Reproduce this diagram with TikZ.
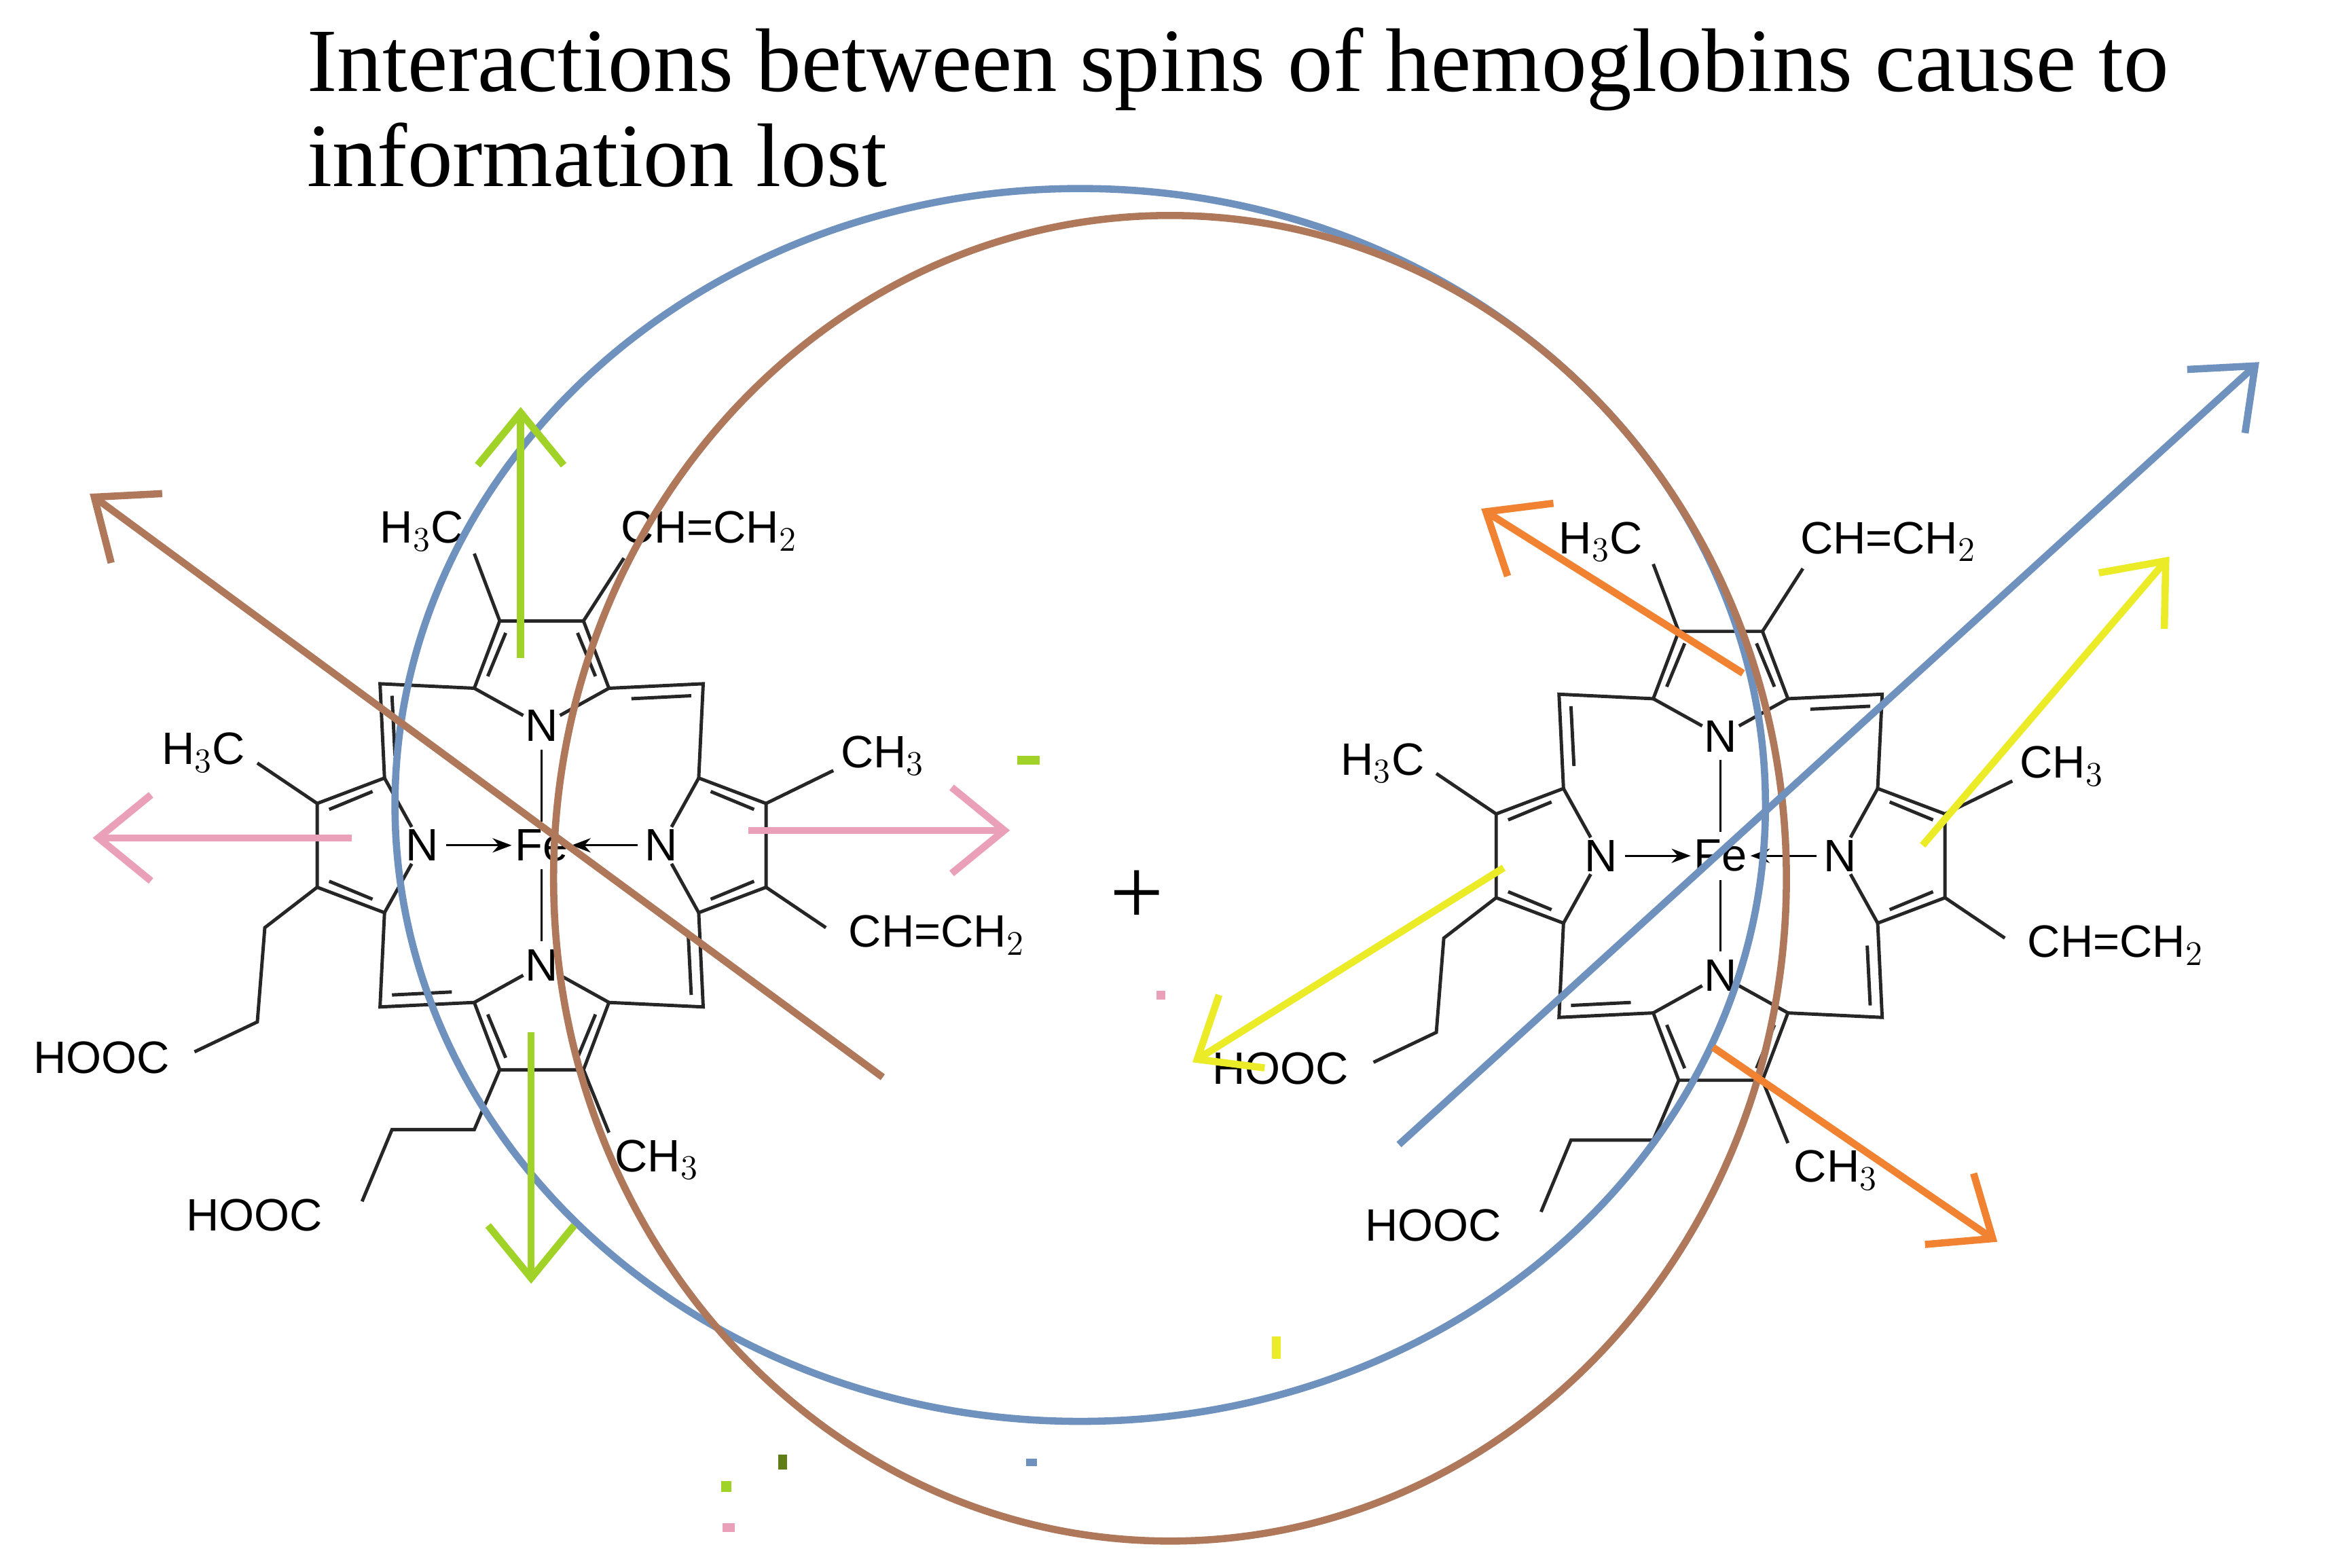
\documentclass[tikz,border=0pt]{standalone}
\usepackage{fontspec}
\setmainfont{Liberation Serif}
\newfontfamily\molfont{Liberation Sans}
\usetikzlibrary{arrows.meta}
\definecolor{cblue}{RGB}{110,145,190}
\definecolor{cbrown}{RGB}{175,120,90}
\definecolor{cgreen}{RGB}{160,210,40}
\definecolor{cpink}{RGB}{235,160,185}
\definecolor{corange}{RGB}{240,130,50}
\definecolor{cyellow}{RGB}{235,235,40}
\tikzset{
 bond/.style={line width=1.4pt,black!85},
 lab/.style={font=\molfont\fontsize{19}{19}\selectfont,inner sep=0pt},
 spin/.style={line width=3pt,-{Straight Barb[length=22pt,width=36pt,line width=3pt]}},
 ring/.style={line width=3pt},
}
\newcommand\pyr[1]{%
 \begin{scope}[rotate=#1]
 \draw[bond] (0,-80)--(-45,-105)--(-28,-150)--(28,-150)--(45,-105)--cycle;
 \draw[bond] (-36,-113)--(-24,-142) (36,-113)--(24,-142);
 \draw[bond] (45,-105)--(108,-108)--(105,-45);
 \draw[bond] (60,-98)--(100,-100);
 \end{scope}}
\newcommand\heme[1]{%
 \begin{scope}[shift={#1}]
 \pyr{0}\pyr{90}\pyr{180}\pyr{270}
 \fill[white] (0,-80) circle (14) (80,0) circle (14) (-80,0) circle (14) (0,80) circle (14) (0,0) circle (16);
 \node[lab] at (0,-80) {N}; \node[lab] at (80,0) {N};
 \node[lab] at (-80,0) {N}; \node[lab] at (0,80) {N};
 \node[lab] at (0,0) {Fe};
 \draw[line width=0.8pt] (0,-64)--(0,-16) (0,16)--(0,64);
 \draw[line width=0.8pt,-{Stealth[length=8pt]}] (-64,0)--(-20,0);
 \draw[line width=0.8pt,-{Stealth[length=8pt]}] (64,0)--(20,0);
 \draw[bond] (-28,-150)--(-45,-195); \node[lab] at (-80,-210) {H$_3$C};
 \draw[bond] (28,-150)--(55,-192); \node[lab] at (112,-210) {CH=CH$_2$};
 \draw[bond] (150,-28)--(195,-50); \node[lab] at (228,-60) {CH$_3$};
 \draw[bond] (150,28)--(190,55); \node[lab] at (264,60) {CH=CH$_2$};
 \draw[bond] (28,150)--(45,192); \node[lab] at (77,210) {CH$_3$};
 \draw[bond] (-28,150)--(-45,190)--(-100,190)--(-120,238); \node[lab] at (-192,247) {HOOC};
 \draw[bond] (-150,-28)--(-190,-55); \node[lab] at (-226,-62) {H$_3$C};
 \draw[bond] (-150,28)--(-185,55)--(-190,118)--(-232,138); \node[lab] at (-294,142) {HOOC};
 \end{scope}}
\begin{document}
\begin{tikzpicture}[x=0.022cm,y=-0.022cm]
\useasboundingbox (0,0) rectangle (1560,1048);
\node[anchor=north west,align=left,inner sep=0pt,font=\fontsize{37.8}{40}\selectfont] at (205,18) {Interactions between spins of hemoglobins cause to\\information lost};
\heme{(362,565)}
\heme{(1150,572)}
\node[font=\fontsize{40}{40}\selectfont] at (760,600) {+};
\draw[ring,cblue] (722,538) ellipse [x radius=458,y radius=412];
\draw[ring,cbrown] (782,587) ellipse [x radius=412,y radius=443];
\draw[spin,cbrown] (590,720)--(60,330);
\draw[spin,cgreen] (348,440)--(348,272);
\draw[spin,cgreen] (355,690)--(355,858);
\draw[spin,cpink] (235,560)--(62,560);
\draw[spin,cpink] (500,555)--(675,555);
\draw[spin,corange] (1165,450)--(990,340);
\draw[spin,corange] (1145,700)--(1335,830);
\draw[spin,cblue] (935,765)--(1510,242);
\draw[spin,cyellow] (1285,565)--(1450,372);
\draw[spin,cyellow] (1005,580)--(797,710);
\fill[cgreen] (680,505) rectangle (695,511);
\fill[cpink] (773,662) rectangle (779,668);
\fill[cyellow] (850,893) rectangle (856,908);
\fill[cblue] (686,975) rectangle (693,980);
\fill[cgreen] (482,990) rectangle (489,997);
\fill[cgreen!60!black] (520,972) rectangle (526,982);
\fill[cpink] (483,1018) rectangle (491,1024);
\end{tikzpicture}
\end{document}
